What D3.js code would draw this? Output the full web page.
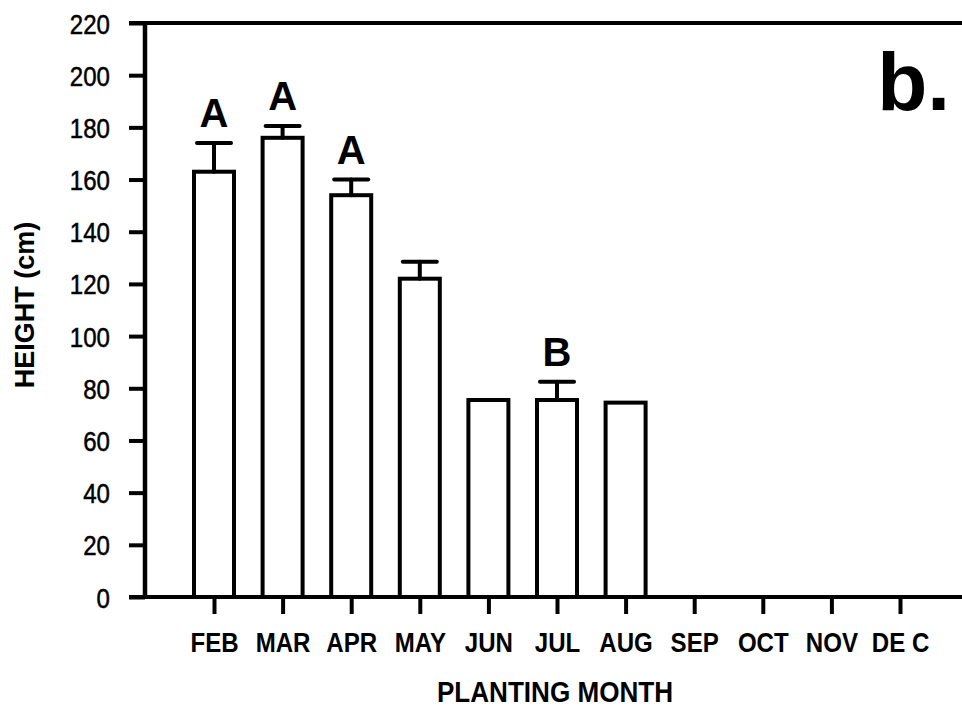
<!DOCTYPE html>
<html>
<head>
<meta charset="utf-8">
<script src="https://cdn.jsdelivr.net/npm/d3@7"></script>
<style>
  html, body { margin: 0; padding: 0; background: #fff; }
  svg { display: block; }
  text { font-family: "Liberation Sans", Arial, sans-serif; fill: #000; }
</style>
</head>
<body>
<svg id="chart" width="962" height="708"></svg>
<script>
// ---- data ----
const months  = ["FEB", "MAR", "APR", "MAY", "JUN", "JUL", "AUG", "SEP", "OCT", "NOV", "DE C"];
const heights = [163, 176, 154, 122, 75.5, 75.5, 74.5, null, null, null, null];
const errors  = [11, 4.5, 6, 6.5, 0, 7, 0, null, null, null, null];
const letters = ["A", "A", "A", "", "", "B", "", "", "", "", ""];
const yTicks  = [0, 20, 40, 60, 80, 100, 120, 140, 160, 180, 200, 220];
const panelLabel = "b.";
const xTitle = "PLANTING MONTH";
const yTitle = "HEIGHT (cm)";

(function () {
const rows = months.map((m, i) => ({ m, v: heights[i], e: errors[i], l: letters[i] }));

const svg = d3.select("#chart");
const mLeft = 145, mBottom = 597, mTop = 23, mRight = 962;
const sx = 0.86; // horizontal condensing of the narrow typeface

const y = d3.scaleLinear().domain([0, 220]).range([mBottom, mTop]);
const x = d3.scalePoint().domain(months).range([214, 900]);
const barW = 40;

// bars
const bars = rows.filter(d => d.v != null);
svg.append("g").selectAll("rect").data(bars).join("rect")
  .attr("x", d => x(d.m) - barW / 2)
  .attr("y", d => y(d.v))
  .attr("width", barW)
  .attr("height", d => y(0) - y(d.v))
  .attr("fill", "#fff")
  .attr("stroke", "#000")
  .attr("stroke-width", 4);

// error bars
const eb = svg.append("g").attr("stroke", "#000").attr("stroke-width", 4).attr("stroke-linecap", "round");
bars.filter(d => d.e > 0).forEach(d => {
  eb.append("line").attr("x1", x(d.m)).attr("x2", x(d.m))
    .attr("y1", y(d.v)).attr("y2", y(d.v + d.e));
  eb.append("line").attr("x1", x(d.m) - 17).attr("x2", x(d.m) + 17)
    .attr("y1", y(d.v + d.e)).attr("y2", y(d.v + d.e));
});

// significance letters
svg.append("g").selectAll("text").data(bars.filter(d => d.l)).join("text")
  .attr("x", d => x(d.m))
  .attr("y", d => y(d.v + d.e) - 16)
  .attr("text-anchor", "middle")
  .attr("font-weight", "bold")
  .attr("font-size", 40)
  .text(d => d.l);

// y axis
const yAxis = d3.axisLeft(y).tickValues(yTicks).tickSize(16).tickPadding(19);
const gy = svg.append("g").attr("transform", `translate(${mLeft},0)`).call(yAxis);
gy.select(".domain").attr("stroke", "#000").attr("stroke-width", 4.5).attr("d", `M0,${mBottom + 2}V${mTop - 2}`);
gy.selectAll(".tick line").attr("stroke", "#000").attr("stroke-width", 4);
gy.selectAll(".tick text")
  .attr("font-size", 28).attr("font-family", "Liberation Sans, Arial, sans-serif")
  .attr("fill", "#000").attr("stroke", "#000").attr("stroke-width", 0.5)
  .attr("x", -35 / sx).attr("transform", `scale(${sx},1)`)
  .attr("dy", "0.36em");

// top frame line
svg.append("line").attr("x1", mLeft - 16).attr("x2", mRight)
  .attr("y1", y(220)).attr("y2", y(220)).attr("stroke", "#000").attr("stroke-width", 4);

// x axis
const xAxis = d3.axisBottom(x).tickSize(17).tickPadding(18);
const gx = svg.append("g").attr("transform", `translate(0,${mBottom})`).call(xAxis);
gx.select(".domain").attr("stroke", "#000").attr("stroke-width", 4).attr("d", `M${mLeft - 16},0H${mRight}`);
gx.selectAll(".tick line").attr("stroke", "#000").attr("stroke-width", 4);
gx.selectAll(".tick text").attr("font-size", 28).attr("font-weight", "bold")
  .attr("font-family", "Liberation Sans, Arial, sans-serif").attr("fill", "#000")
  .attr("transform", `scale(${sx},1)`).attr("dy", "0.71em");

// axis titles
svg.append("text").attr("transform", `translate(555,702) scale(0.9,1)`).attr("text-anchor", "middle")
  .attr("font-weight", "bold").attr("font-size", 29).text(xTitle);
svg.append("text").attr("transform", "translate(34,305) rotate(-90)").attr("text-anchor", "middle")
  .attr("font-weight", "bold").attr("font-size", 27).text(yTitle);

// panel label
svg.append("text").attr("x", 950).attr("y", 110).attr("text-anchor", "end")
  .attr("font-weight", "bold").attr("font-size", 82).text(panelLabel);
})();
</script>
</body>
</html>
